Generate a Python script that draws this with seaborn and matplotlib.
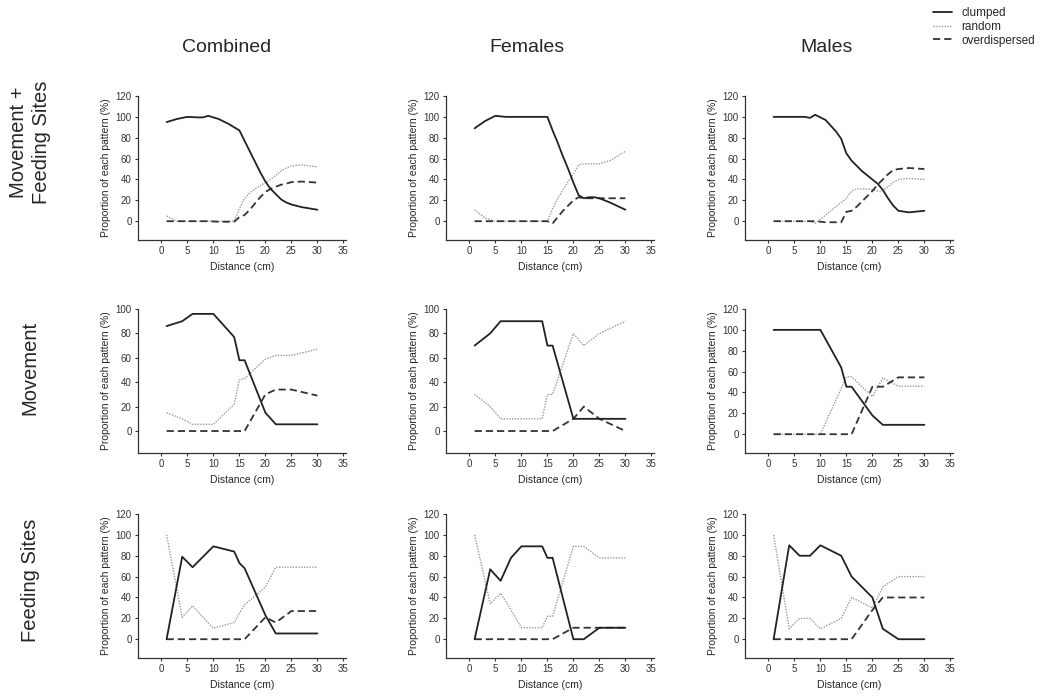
import matplotlib
matplotlib.use('Agg')
import matplotlib.pyplot as plt
from matplotlib.lines import Line2D
import pandas as pd
import seaborn as sns

# distances (cm) at which the proportions were read
dist_smooth = [1, 3, 5, 7, 8, 9, 11, 13, 14, 15, 16, 17, 18, 19, 20, 21, 22, 23, 24, 25, 27, 30]
dist_step = [1, 4, 6, 8, 10, 14, 15, 16, 20, 22, 25, 30]

col_titles = ['Combined', 'Females', 'Males']
row_titles = ['Movement +\nFeeding Sites', 'Movement', 'Feeding Sites']
patterns = ['clumped', 'random', 'overdispersed']

# Movement + Feeding Sites
mf_comb_clumped = [95, 98, 100, 99.5, 99.5, 101, 98, 93, 90, 87, 77, 67, 57, 47, 38, 31, 26, 21, 18, 16, 13.5, 11]
mf_comb_random = [5, 0, 0, 0, 0, 0, 0, 0, 0, 12, 22, 27, 31, 34, 37, 40, 44, 48, 51, 53, 54, 52]
mf_comb_over = [0, 0, 0, 0, 0, 0, -0.5, -0.5, -0.5, 4, 6, 11, 17, 23, 28, 31, 33, 35, 36, 37.5, 38, 37]

mf_fem_clumped = [89, 96, 101, 100, 100, 100, 100, 100, 100, 100, 87, 75, 62, 50, 37, 25, 22, 23, 23, 22, 18, 11]
mf_fem_random = [11, 3, 0, 0, 0, 0, 0, 0, 0, 0, 12, 22, 30, 38, 45, 54, 55, 55, 55, 55, 58, 67]
mf_fem_over = [0, 0, 0, 0, 0, 0, 0, 0, 0, 0, -2, 4, 10, 15, 20, 23, 22, 22, 22, 22, 22, 22]

mf_male_clumped = [100, 100, 100, 100, 99, 102, 97, 86, 79, 65, 58, 53, 48, 44, 40, 36, 30, 22, 15, 10, 8.5, 10]
mf_male_random = [0, 0, 0, 0, 0, -2, 6, 14, 18, 22, 29, 31, 31, 31, 30, 29, 29, 33, 37, 40, 41, 40]
mf_male_over = [0, 0, 0, 0, 0, 0, -1, -1, -1, 9, 10, 14, 19, 24, 29, 35, 40, 45, 49, 50, 51, 50]

# Movement
mv_comb_clumped = [86, 90, 96, 96, 96, 77, 58, 58, 15, 5.5, 5.5, 5.5]
mv_comb_random = [15, 10, 5.5, 5.5, 5.5, 22, 42, 43, 59, 62, 62, 67]
mv_comb_over = [0, 0, 0, 0, 0, 0, 0, 0, 30, 34, 34, 29]

mv_fem_clumped = [70, 80, 90, 90, 90, 90, 70, 70, 10, 10, 10, 10]
mv_fem_random = [30, 20, 10, 10, 10, 10, 30, 30, 80, 70, 80, 90]
mv_fem_over = [0, 0, 0, 0, 0, 0, 0, 0, 10, 20, 10, 0]

mv_male_clumped = [100, 100, 100, 100, 100, 64, 45.5, 45.5, 18, 9, 9, 9]
mv_male_random = [0, 0, 0, 0, 0, 44, 55, 55, 36, 54, 46, 46]
mv_male_over = [0, 0, 0, 0, 0, 0, 0, 0, 45.5, 45.5, 54.5, 54.5]

# Feeding Sites
fs_comb_clumped = [0, 79, 69, 79, 89, 84, 73, 68, 23, 5.5, 5.5, 5.5]
fs_comb_random = [100, 21, 32, 21, 10.5, 16, 25, 33, 50, 69, 69, 69]
fs_comb_over = [0, 0, 0, 0, 0, 0, 0, 0, 21, 16, 27, 27]

fs_fem_clumped = [0, 67, 56, 78, 89, 89, 78, 78, 0, 0, 11, 11]
fs_fem_random = [100, 34, 44, 28, 11, 11, 22, 22, 89, 89, 78, 78]
fs_fem_over = [0, 0, 0, 0, 0, 0, 0, 0, 11, 11, 11, 11]

fs_male_clumped = [0, 90, 80, 80, 90, 80, 70, 60, 40, 10, 0, 0]
fs_male_random = [100, 10, 20, 20, 10, 20, 30, 40, 30, 50, 60, 60]
fs_male_over = [0, 0, 0, 0, 0, 0, 0, 0, 28, 40, 40, 40]

panels = [
    [(dist_smooth, mf_comb_clumped, mf_comb_random, mf_comb_over),
     (dist_smooth, mf_fem_clumped, mf_fem_random, mf_fem_over),
     (dist_smooth, mf_male_clumped, mf_male_random, mf_male_over)],
    [(dist_step, mv_comb_clumped, mv_comb_random, mv_comb_over),
     (dist_step, mv_fem_clumped, mv_fem_random, mv_fem_over),
     (dist_step, mv_male_clumped, mv_male_random, mv_male_over)],
    [(dist_step, fs_comb_clumped, fs_comb_random, fs_comb_over),
     (dist_step, fs_fem_clumped, fs_fem_random, fs_fem_over),
     (dist_step, fs_male_clumped, fs_male_random, fs_male_over)],
]
y_tops = [[120, 120, 120], [100, 100, 120], [120, 120, 120]]

line_styles = {'clumped': dict(color='#222222', linestyle='-', linewidth=1.3),
               'random': dict(color='#9a9a9a', linestyle=(0, (1, 1)), linewidth=1.0),
               'overdispersed': dict(color='#333333', linestyle=(0, (4, 2.2)), linewidth=1.3)}

sns.set_style('ticks')
plt.rcParams['font.family'] = ['Liberation Sans', 'DejaVu Sans']

W, H = 1045, 698
fig = plt.figure(figsize=(W / 100, H / 100), dpi=100)

col_left = [138, 446, 745]
row_top = [96, 309, 514]
ax_w, ax_h = 208, 144

for r in range(3):
    for c in range(3):
        left, top = col_left[c], row_top[r]
        ax = fig.add_axes([left / W, 1 - (top + ax_h) / H, ax_w / W, ax_h / H])
        dist, clumped, random, over = panels[r][c]
        df = pd.DataFrame({'distance': dist, 'clumped': clumped, 'random': random, 'overdispersed': over})
        for p in ['random', 'overdispersed', 'clumped']:
            sns.lineplot(data=df, x='distance', y=p, ax=ax, **line_styles[p])
        ax.set_xlim(-4.5, 35.5)
        ax.set_ylim(-18, y_tops[r][c])
        ax.set_xticks(range(0, 36, 5))
        ax.set_yticks(range(0, y_tops[r][c] + 1, 20))
        sns.despine(ax=ax)
        for s in ['left', 'bottom']:
            ax.spines[s].set_color('#333333')
            ax.spines[s].set_linewidth(0.9)
        ax.tick_params(labelsize=7, colors='#333333', length=2.5, width=0.8, pad=2)
        ax.set_xlabel('Distance (cm)', fontsize=7.5, labelpad=4)
        ax.set_ylabel('Proportion of each pattern (%)', fontsize=7.5, labelpad=3)

col_cx = [227, 527, 827]
for c, t in enumerate(col_titles):
    fig.text(col_cx[c] / W, 1 - 48 / H, t, fontsize=14, ha='center', va='center')

row_cy = [142, 368, 580]
for r, t in enumerate(row_titles):
    fig.text(30 / W, 1 - row_cy[r] / H, t, fontsize=14.5, ha='center', va='center',
             rotation=90, multialignment='center', linespacing=1.3)

handles = [Line2D([], [], **line_styles[p]) for p in patterns]
fig.legend(handles, patterns, loc='upper left', bbox_to_anchor=(926 / W, 1.0), frameon=False,
           fontsize=8.5, handlelength=1.6, handletextpad=0.8, labelspacing=0.15, borderaxespad=0.2)

fig.savefig('out.png', dpi=100)
